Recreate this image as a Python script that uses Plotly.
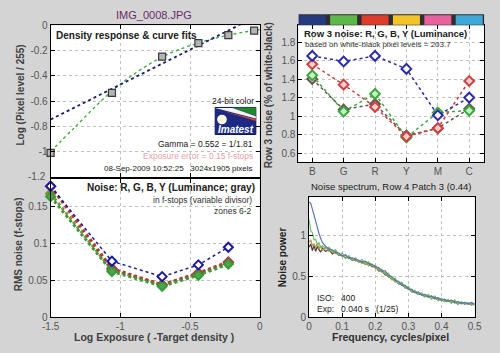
import plotly.graph_objects as go

W, H = 500, 353
def px(x): return x / W
def py(y): return 1 - y / H

FONT = "Liberation Sans, Arial, sans-serif"
BG = "#d4d4d4"
TICKC = "#555555"

# ---------- Density response (top-left) ----------
dens_x = [-1.5, -1.06, -0.70, -0.44, -0.225, -0.04]
dens_y = [-1.01, -0.535, -0.248, -0.141, -0.077, -0.042]
fit_x = [-1.5, -1.33, -1.06, -0.88, -0.70, -0.55, -0.44, -0.33, -0.225, -0.12, -0.04, 0.0]
fit_y = [-1.0, -0.81, -0.52, -0.37, -0.25, -0.18, -0.14, -0.105, -0.078, -0.055, -0.042, -0.035]
gamma_x = [-1.5, 0.0]
gamma_y = [-0.745, 0.083]
dens_yticks = [0, -0.2, -0.4, -0.6, -0.8, -1, -1.2]
dens_yticktext = ["0", "-0.2", "-0.4", "-0.6", "-0.8", "-1", "-1.2"]
dens_yrange = [-1.2, 0]

# ---------- Noise in f-stops (bottom-left) ----------
noise_x = [-1.5, -1.06, -0.70, -0.44, -0.225]
noise_r = [0.178, 0.066, 0.044, 0.060, 0.075]
noise_g = [0.164, 0.062, 0.042, 0.057, 0.072]
noise_y = [0.168, 0.064, 0.044, 0.059, 0.074]
noise_b = [0.178, 0.076, 0.055, 0.071, 0.095]

# ---------- Row 3 noise (top-right) ----------
patch_cats = ["B", "G", "R", "Y", "M", "C"]
patch_pos = [1, 2, 3, 4, 5, 6]
patch_colors = ["#263a80", "#5cb848", "#e03c2c", "#f2c428", "#e8609c", "#3ea8d8"]
row3_b = [1.65, 1.59, 1.65, 1.51, 1.01, 1.20]
row3_r = [1.56, 1.34, 1.10, 0.78, 0.87, 1.38]
row3_g = [1.44, 1.05, 1.24, 0.77, 1.04, 1.06]
row3_y = [1.40, 1.07, 1.13, 0.79, 0.87, 1.08]

# ---------- Noise spectrum (bottom-right) ----------
spec_freq = [0, 0.005, 0.01, 0.015, 0.02, 0.025, 0.03, 0.035, 0.04,
             0.05, 0.06, 0.07, 0.08, 0.09, 0.10, 0.11, 0.12, 0.13, 0.14,
             0.15, 0.16, 0.17, 0.18, 0.19, 0.20, 0.21, 0.22, 0.23, 0.24,
             0.25, 0.26, 0.27, 0.28, 0.29, 0.30, 0.31, 0.32, 0.33, 0.34,
             0.35, 0.36, 0.37, 0.38, 0.39, 0.40, 0.41, 0.42, 0.43, 0.44,
             0.45, 0.46, 0.47, 0.48, 0.49, 0.50]
spec_dark = [0.86, 0.90, 0.82, 0.88, 0.81, 0.87, 0.83, 0.80, 0.85,
             0.81, 0.83, 0.78, 0.80, 0.76, 0.76, 0.73, 0.74, 0.70, 0.71,
             0.68, 0.68, 0.65, 0.66, 0.62, 0.62, 0.57, 0.57, 0.52, 0.51,
             0.46, 0.46, 0.41, 0.41, 0.36, 0.36, 0.31, 0.31, 0.28, 0.28,
             0.25, 0.26, 0.23, 0.24, 0.21, 0.22, 0.19, 0.20, 0.18, 0.19,
             0.16, 0.18, 0.16, 0.17, 0.15, 0.16]
spec_red = [0.92, 0.95, 0.88, 0.90, 0.86, 0.91, 0.84, 0.88, 0.82,
            0.86, 0.81, 0.82, 0.78, 0.78, 0.75, 0.76, 0.72, 0.73, 0.69,
            0.70, 0.66, 0.68, 0.63, 0.65, 0.60, 0.60, 0.55, 0.55, 0.49,
            0.49, 0.43, 0.44, 0.39, 0.39, 0.34, 0.34, 0.30, 0.30, 0.27,
            0.28, 0.24, 0.26, 0.22, 0.23, 0.20, 0.21, 0.19, 0.20, 0.17,
            0.19, 0.16, 0.18, 0.16, 0.17, 0.15]
spec_green = [1.20, 1.06, 1.04, 0.95, 0.96, 0.89, 0.92, 0.85, 0.88,
              0.84, 0.86, 0.80, 0.83, 0.76, 0.79, 0.72, 0.76, 0.70, 0.73,
              0.68, 0.71, 0.65, 0.68, 0.63, 0.64, 0.58, 0.59, 0.53, 0.54,
              0.46, 0.48, 0.41, 0.43, 0.36, 0.38, 0.31, 0.33, 0.28, 0.30,
              0.25, 0.28, 0.22, 0.26, 0.20, 0.23, 0.19, 0.22, 0.17, 0.21,
              0.16, 0.19, 0.16, 0.18, 0.15, 0.17]
spec_blue = [1.42, 1.40, 1.33, 1.25, 1.18, 1.10, 1.03, 0.97, 0.92,
             0.87, 0.84, 0.83, 0.80, 0.79, 0.75, 0.77, 0.72, 0.73, 0.71,
             0.70, 0.68, 0.69, 0.66, 0.65, 0.62, 0.61, 0.57, 0.57, 0.51,
             0.50, 0.45, 0.44, 0.39, 0.39, 0.34, 0.34, 0.30, 0.31, 0.27,
             0.28, 0.25, 0.26, 0.23, 0.24, 0.21, 0.22, 0.19, 0.21, 0.18,
             0.19, 0.17, 0.18, 0.16, 0.18, 0.16]

fig = go.Figure()

# top-left traces
fig.add_trace(go.Scatter(x=fit_x, y=fit_y, mode="lines", line=dict(color="#3aa83a", width=1.3, dash="dot", shape="spline"),
                         xaxis="x", yaxis="y", showlegend=False))
fig.add_trace(go.Scatter(x=gamma_x, y=gamma_y, mode="lines", line=dict(color="#1a1a6a", width=1.8, dash="dot"),
                         xaxis="x", yaxis="y", showlegend=False))
fig.add_trace(go.Scatter(x=dens_x, y=dens_y, mode="markers",
                         marker=dict(symbol="square", size=7, color="#b4b4b4", line=dict(color="#3a3a3a", width=1.2)),
                         xaxis="x", yaxis="y", showlegend=False, cliponaxis=False))

# bottom-left traces
for vals, col, fill, w in [(noise_y, "#8c8c3c", "#8c8c3c", 3), (noise_r, "#b03a3a", "#c04848", 3),
                           (noise_g, "#3a9a3a", "#4aa84a", 3), (noise_b, "#1a1a9a", "#ffffff", 1.5)]:
    fig.add_trace(go.Scatter(x=noise_x, y=vals, mode="lines+markers",
                             line=dict(color=col, width=w, dash="dot"),
                             marker=dict(symbol="diamond", size=7, color=fill, line=dict(color=col, width=2)),
                             xaxis="x2", yaxis="y2", showlegend=False, cliponaxis=False))

# top-right traces
for vals, col, fill in [(row3_y, "#6a5050", "#e8dede"), (row3_g, "#3aa83a", "#c8f0c8"),
                        (row3_r, "#d04040", "#f4d0d0"), (row3_b, "#2a2aa8", "#ffffff")]:
    fig.add_trace(go.Scatter(x=patch_pos, y=vals, mode="lines+markers",
                             line=dict(color=col, width=1.5, dash="dot"),
                             marker=dict(symbol="diamond", size=7.5, color=fill, line=dict(color=col, width=2)),
                             xaxis="x3", yaxis="y3", showlegend=False, cliponaxis=False))

# bottom-right traces
for vals, col in [(spec_dark, "#4a3a3a"), (spec_red, "#c0904a"), (spec_green, "#6cc06c"), (spec_blue, "#5a78b0")]:
    fig.add_trace(go.Scatter(x=spec_freq, y=vals, mode="lines", line=dict(color=col, width=1.2),
                             xaxis="x4", yaxis="y4", showlegend=False))

axis_common = dict(showline=True, linecolor="#000000", linewidth=1, mirror="ticks", ticks="inside",
                   ticklen=4, tickcolor="#000000", showgrid=True, gridcolor="#c0c0c0", griddash="dot",
                   gridwidth=1, zeroline=False, tickfont=dict(family=FONT, size=10, color=TICKC))

dl = [px(43), px(259)]
tl_dom = [py(177), py(20)]
fig.update_layout(
    width=W, height=H, margin=dict(l=0, r=0, t=0, b=0),
    paper_bgcolor=BG, plot_bgcolor="#ffffff",
    font=dict(family=FONT),
    xaxis=dict(axis_common, domain=dl, range=[-1.5, 0], tickvals=[-1.5, -1, -0.5, 0],
               showticklabels=False, anchor="y"),
    yaxis=dict(axis_common, domain=tl_dom, range=dens_yrange,
               tickvals=dens_yticks[:-1], ticktext=dens_yticktext[:-1], anchor="x"),
    xaxis2=dict(axis_common, domain=dl, range=[-1.5, 0], tickvals=[-1.5, -1, -0.5, 0],
                ticktext=["-1.5", "-1", "-0.5", "0"], anchor="y2"),
    yaxis2=dict(axis_common, domain=[py(322), py(179)], range=[0, 0.188],
                tickvals=[0, 0.05, 0.1, 0.15], ticktext=["0", "0.05", "0.1", "0.15"], anchor="x2"),
    xaxis3=dict(axis_common, domain=[px(299), px(491)], range=[0.56, 6.48], tickvals=patch_pos,
                ticktext=patch_cats, anchor="y3"),
    yaxis3=dict(axis_common, domain=[py(162), py(20)], range=[0.5, 1.98],
                tickvals=[0.6, 0.8, 1, 1.2, 1.4, 1.6, 1.8],
                ticktext=["0.6", "0.8", "1", "1.2", "1.4", "1.6", "1.8"], anchor="x3"),
    xaxis4=dict(axis_common, domain=[px(310), px(481)], range=[0, 0.5],
                tickvals=[0, 0.1, 0.2, 0.3, 0.4, 0.5], ticktext=["0", "0.1", "0.2", "0.3", "0.4", "0.5"],
                anchor="y4"),
    yaxis4=dict(axis_common, domain=[py(322), py(198)], range=[0, 1.476],
                tickvals=[0, 0.5, 1], ticktext=["0", "0.5", "1"], anchor="x4"),
)

shapes = []
# color bar above row-3 plot
shapes.append(dict(type="rect", xref="x3", yref="paper", x0=0.56, x1=6.48, y0=py(20), y1=py(8.5),
                   fillcolor="#2e2e2e", line=dict(width=0), layer="above"))
for p, c in zip(patch_pos, patch_colors):
    shapes.append(dict(type="rect", xref="x3", yref="paper", x0=p - 0.43, x1=p + 0.43, y0=py(19.5), y1=py(9.5),
                       fillcolor=c, line=dict(width=0), layer="above"))

# Imatest logo
lx0, lx1, ly0, ly1 = 213, 255, 105, 133
shapes.append(dict(type="rect", xref="paper", yref="paper", x0=px(lx0), x1=px(lx1), y0=py(ly1), y1=py(ly0),
                   fillcolor="#1c2a84", line=dict(color="#101850", width=1), layer="above"))
def path(pts):
    s = "M " + " L ".join(f"{px(a):.5f},{py(b):.5f}" for a, b in pts) + " Z"
    return s
shapes.append(dict(type="path", xref="paper", yref="paper", path=path([(231, 105), (255, 105), (255, 113.5)]),
                   fillcolor="#1e8a2a", line=dict(width=0), layer="above"))
shapes.append(dict(type="path", xref="paper", yref="paper", path=path([(213, 105.5), (231, 105.5), (255, 114), (255, 116.5)]),
                   fillcolor="#f4f4f4", line=dict(width=0), layer="above"))
shapes.append(dict(type="path", xref="paper", yref="paper", path=path([(220, 108.5), (255, 117), (255, 119)]),
                   fillcolor="#d84030", line=dict(width=0), layer="above"))
shapes.append(dict(type="circle", xref="paper", yref="paper", x0=px(215), x1=px(225), y0=py(122.5), y1=py(112.5),
                   fillcolor="#fff8e0", line=dict(width=0), layer="above"))
fig.update_layout(shapes=shapes)

ann = []
def T(x, y, text, size=9, color="#202020", xa="left", ya="middle", bold=False, angle=0, italic=False):
    if bold:
        text = f"<b>{text}</b>"
    if italic:
        text = f"<i>{text}</i>"
    ann.append(dict(xref="paper", yref="paper", x=px(x), y=py(y), text=text, showarrow=False,
                    xanchor=xa, yanchor=ya, textangle=angle,
                    font=dict(family=FONT, size=size, color=color)))

# bottom tick label of the density axis, positioned from its value on the axis scale
frac = (dens_yticks[-1] - dens_yrange[0]) / (dens_yrange[1] - dens_yrange[0])
ann.append(dict(xref="paper", yref="paper", x=px(40), y=tl_dom[0] + frac * (tl_dom[1] - tl_dom[0]),
                text=dens_yticktext[-1], showarrow=False, xanchor="right", yanchor="middle",
                font=dict(family=FONT, size=10, color=TICKC)))

T(150, 9, "IMG_0008.JPG", size=11, color="#6a2a6a", xa="center")
T(47, 31, "Density response & curve fits", size=10, bold=True)
T(255, 98, "24-bit color", size=8.5, xa="right")
T(234, 127.5, "Imatest", size=10, color="#ffffff", xa="center", bold=True, italic=True)
T(254, 143, "Gamma = 0.552 = 1/1.81", size=8.5, xa="right")
T(254, 155, "Exposure error = 0.15 f-stops", size=8.5, color="#e8a0a8", xa="right")
T(254, 168, "08-Sep-2009 10:52:25   3024x1905 pixels", size=8, xa="right")
T(12, 92, "Log (Pixel level / 255)", size=10, color="#404040", xa="center", bold=True, angle=-90)

T(256, 188, "Noise: R, G, B, Y (Luminance; gray)", size=10, xa="right", bold=True)
T(253, 201, "in f-stops (variable divisor)", size=8.5, color="#303030", xa="right")
T(253, 212, "zones 6-2", size=8.5, color="#303030", xa="right")
T(10, 247, "RMS noise (f-stops)", size=10, color="#404040", xa="center", bold=True, angle=-90)
T(150, 343, "Log Exposure ( -Target density )", size=10.5, color="#404040", xa="center", bold=True)

T(303, 28, "Row 3 noise: R, G, B, Y (Luminance)", size=9.5, bold=True)
T(304, 39.5, "based on white-black pixel levels = 203.7", size=8, color="#303030")
T(268, 92, "Row 3 noise (% of white-black)", size=10, color="#404040", xa="center", bold=True, angle=-90)

T(395, 187, "Noise spectrum, Row 4 Patch 3 (0.44)", size=9.5, color="#202020", xa="center")
T(282, 260, "Noise power", size=10, color="#202020", xa="center", bold=True, angle=-90)
T(394, 343, "Frequency, cycles/pixel", size=10.5, color="#303030", xa="center", bold=True)
T(316, 302, "ISO:   400", size=8.5, color="#202020")
T(316, 314, "Exp:   0.040 s   (1/25)", size=8.5, color="#202020")

fig.update_layout(annotations=ann)
fig.write_html("out.html")
